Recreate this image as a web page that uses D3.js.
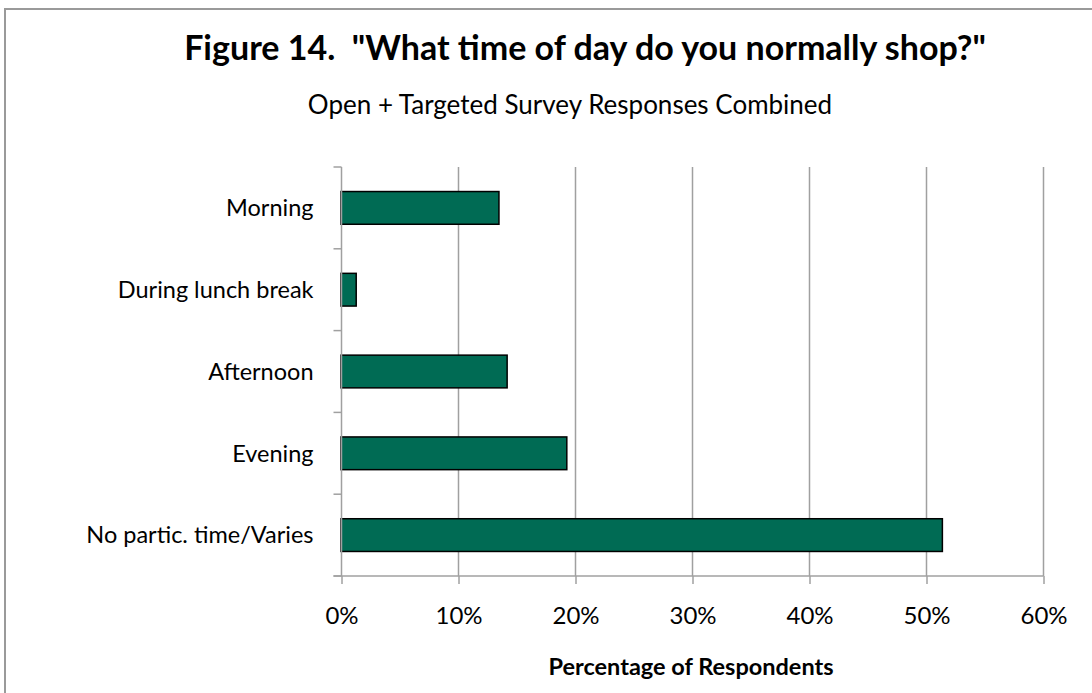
<!DOCTYPE html>
<html>
<head>
<meta charset="utf-8">
<script src="https://cdn.jsdelivr.net/npm/d3@7"></script>
<style>
  html, body { margin: 0; padding: 0; background: #fff; }
  svg { display: block; }
  text { font-family: Lato, "Open Sans", sans-serif; fill: #000; }
</style>
</head>
<body>
<svg id="chart" width="1092" height="693"></svg>
<script>
// Survey answers, top to bottom
const categories = ["Morning", "During lunch break", "Afternoon", "Evening", "No partic. time/Varies"];
// Share of respondents (%)
const shares = [13.5, 1.3, 14.2, 19.3, 51.4];
// Horizontal axis ticks (%)
const tickValues = [0, 10, 20, 30, 40, 50, 60];

const titleText = "Figure 14.  \"What time of day do you normally shop?\"";
const subtitleText = "Open + Targeted Survey Responses Combined";
const xAxisTitle = "Percentage of Respondents";

const svg = d3.select("#chart");
const W = 1092, H = 693;
const plot = { left: 341, right: 1043, top: 167, bottom: 576 };

// Chart frame
svg.append("rect")
  .attr("x", 5).attr("y", 9)
  .attr("width", W + 20).attr("height", H + 20)
  .attr("fill", "#fff")
  .attr("stroke", "#9a9a9a").attr("stroke-width", 2);

const x = d3.scaleLinear().domain([0, 60]).range([plot.left, plot.right]);
const y = d3.scaleBand().domain(categories)
  .range([plot.top, plot.bottom])
  .paddingInner(0.6).paddingOuter(0.3);

const grid = "#a0a0a0";

// Vertical gridlines
svg.append("g").selectAll("line")
  .data(tickValues.filter(d => d > 0))
  .join("line")
  .attr("x1", d => x(d) + 0.5).attr("x2", d => x(d) + 0.5)
  .attr("y1", plot.top).attr("y2", plot.bottom)
  .attr("stroke", grid).attr("stroke-width", 1.5);

// Bars
svg.append("g").selectAll("rect")
  .data(categories)
  .join("rect")
  .attr("x", x(0))
  .attr("y", d => y(d))
  .attr("width", (d, i) => x(shares[i]) - x(0))
  .attr("height", y.bandwidth())
  .attr("fill", "#006B54")
  .attr("stroke", "#000").attr("stroke-width", 1.5);

// X axis
const xAxis = d3.axisBottom(x)
  .tickValues(tickValues)
  .tickFormat(d => d + "%")
  .tickSize(8).tickPadding(23).tickSizeOuter(0);
const gx = svg.append("g")
  .attr("transform", `translate(0.5,${plot.bottom})`)
  .call(xAxis);
gx.select(".domain").attr("stroke", grid).attr("stroke-width", 1.5)
  .attr("d", `M${plot.left - 8},0H${plot.right}`);
gx.selectAll(".tick line").attr("stroke", grid).attr("stroke-width", 1.5);
gx.selectAll(".tick text").attr("font-size", 24).attr("font-family", "Lato, sans-serif").attr("fill", "#000");

// Y axis: category separators as ticks between bands
const yAxisG = svg.append("g").attr("transform", `translate(${plot.left + 0.5},0)`);
yAxisG.append("line")
  .attr("y1", plot.top).attr("y2", plot.bottom)
  .attr("stroke", grid).attr("stroke-width", 1.5);
const bounds = categories.map(c => y(c) - y.step() * y.paddingOuter());
bounds.push(plot.bottom);
yAxisG.selectAll("line.sep")
  .data(bounds)
  .join("line").attr("class", "sep")
  .attr("x1", -8).attr("x2", 0)
  .attr("y1", d => d).attr("y2", d => d)
  .attr("stroke", grid).attr("stroke-width", 1.5);
yAxisG.selectAll("text")
  .data(categories)
  .join("text")
  .attr("x", -28)
  .attr("y", d => y(d) + y.bandwidth() / 2)
  .attr("dy", "0.35em")
  .attr("text-anchor", "end")
  .attr("font-size", 23.5)
  .text(d => d);

// Titles
svg.append("text")
  .attr("x", 585).attr("y", 60)
  .attr("text-anchor", "middle")
  .attr("font-size", 34).attr("font-weight", "bold")
  .style("white-space", "pre")
  .text(titleText);
svg.append("text")
  .attr("x", 570).attr("y", 114)
  .attr("text-anchor", "middle")
  .attr("font-size", 26)
  .text(subtitleText);
svg.append("text")
  .attr("x", 691).attr("y", 675)
  .attr("text-anchor", "middle")
  .attr("font-size", 23.5).attr("font-weight", "bold")
  .text(xAxisTitle);
</script>
</body>
</html>
